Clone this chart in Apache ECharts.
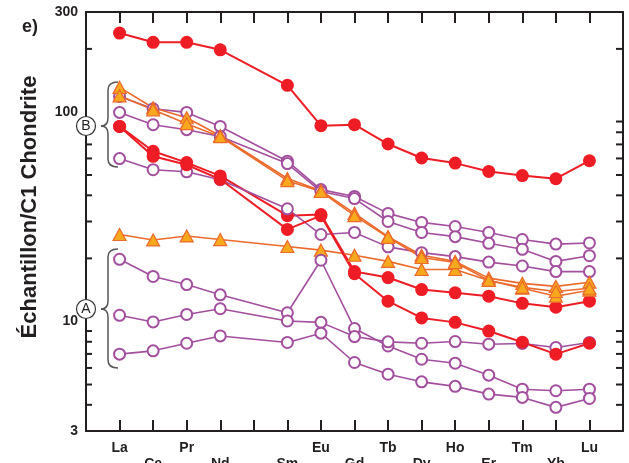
<!DOCTYPE html>
<html>
<head>
<meta charset="utf-8">
<script src="https://cdn.jsdelivr.net/npm/echarts@6/dist/echarts.min.js"></script>
<style>
  html, body { margin: 0; padding: 0; background: #fff; }
  #chart { width: 629px; height: 463px; }
</style>
</head>
<body>
<div id="chart"></div>
<script>
// Rare earth elements in atomic order (Pm not analysed)
const ELEMENTS = ['La', 'Ce', 'Pr', 'Nd', 'Pm', 'Sm', 'Eu', 'Gd', 'Tb', 'Dy', 'Ho', 'Er', 'Tm', 'Yb', 'Lu'];

// Chondrite-normalised concentrations, one array per sample
const redHigh = [238, 215, 215, 198, null, 134, 86, 87, 70.3, 60.3, 57, 52, 49.7, 48, 58.5];
const redMidA = [85.3, 64.9, 57.3, 49.5, null, 32.0, 32.4, 17.3, 16.2, 14.2, 13.7, 13.2, 12.2, 11.7, 12.5];
const redMidB = [85.3, 61.4, 56.0, 47.7, null, 27.5, 32.0, 16.9, 12.5, 10.4, 9.9, 9.0, 7.96, 6.98, 7.87];

const triB1 = [131, 104.7, 93.8, 77.0, null, 48.1, 42.1, 32.8, 25.4, 20.7, 19.35, 16.1, 15.2, 14.7, 15.4];
const triB2 = [119.4, 102.4, 87.9, 76.2, null, 47.0, 41.7, 32.0, 25.2, 20.2, 19.1, 15.7, 14.55, 13.9, 14.4];
const triFlat = [26.0, 24.5, 25.6, 24.6, null, 22.8, 21.9, 20.7, 19.35, 17.7, 17.7, 15.7, 14.4, 13.2, 14.1];

const groupB1 = [118.5, 103.6, 99.5, 85.3, null, 58.2, 42.6, 39.5, 32.8, 29.7, 28.4, 26.6, 24.6, 23.4, 23.7];
const groupB2 = [99.5, 86.9, 82.3, 76.4, null, 56.7, 41.7, 38.6, 30.0, 26.6, 25.4, 23.6, 22.1, 19.35, 20.6];
const groupB3 = [59.9, 53.0, 51.8, 47.5, null, 34.5, 26.0, 26.6, 22.7, 21.3, 20.4, 19.2, 18.4, 17.3, 17.3];

const groupA1 = [19.8, 16.4, 15.0, 13.4, null, 11.0, 19.6, 9.25, 7.64, 6.6, 6.32, 5.54, 4.75, 4.67, 4.75];
const groupA2 = [10.7, 9.95, 10.8, 11.5, null, 10.05, 9.9, 8.47, 7.99, 7.87, 8.02, 7.79, 7.85, 7.51, 7.94];
const groupA3 = [6.98, 7.24, 7.87, 8.53, null, 7.94, 8.79, 6.37, 5.6, 5.15, 4.9, 4.5, 4.34, 3.89, 4.29];

// Log axis: labelled values and minor tick values
const Y_LABELS = [3, 10, 100, 300];
const MINOR_TICKS = [4, 5, 6, 7, 8, 9, 20, 30, 40, 50, 60, 70, 80, 90, 200];

const RED = '#ee1c25';
const PURPLE = '#a24f9d';
const ORANGE = '#ec6a2b';
const TRI_FILL = '#f7a91e';
const INK = '#231f20';

// Category axis padded by one empty slot at each end
const axisCats = [''].concat(ELEMENTS, ['']);
const pad = arr => [null].concat(arr, [null]);

function redSeries(name, data) {
  return {
    name, type: 'line', data: pad(data), connectNulls: true,
    symbol: 'circle', symbolSize: 13,
    itemStyle: { color: RED },
    lineStyle: { color: RED, width: 2 }
  };
}
function purpleSeries(name, data) {
  return {
    name, type: 'line', data: pad(data), connectNulls: true,
    symbol: 'circle', symbolSize: 11,
    itemStyle: { color: '#fff', borderColor: PURPLE, borderWidth: 2 },
    lineStyle: { color: PURPLE, width: 1.6 }
  };
}
function triSeries(name, data) {
  return {
    name, type: 'line', data: pad(data), connectNulls: true,
    symbol: 'triangle', symbolSize: [13, 12],
    itemStyle: { color: TRI_FILL, borderColor: ORANGE, borderWidth: 1.2 },
    lineStyle: { color: ORANGE, width: 1.6 }
  };
}

// Curly brace built from curve and line pieces: x = tip, top..bottom span
function brace(tipX, top, mid, bottom) {
  const vx = tipX + 7, ex = tipX + 17;
  const st = { stroke: '#555', lineWidth: 1.5, fill: 'none' };
  const pieces = [
    { type: 'bezierCurve', shape: { x1: ex, y1: top, x2: vx, y2: top + 8, cpx1: vx, cpy1: top } },
    { type: 'line', shape: { x1: vx, y1: top + 8, x2: vx, y2: mid - 8 } },
    { type: 'bezierCurve', shape: { x1: vx, y1: mid - 8, x2: tipX, y2: mid, cpx1: vx, cpy1: mid } },
    { type: 'bezierCurve', shape: { x1: tipX, y1: mid, x2: vx, y2: mid + 8, cpx1: vx, cpy1: mid } },
    { type: 'line', shape: { x1: vx, y1: mid + 8, x2: vx, y2: bottom - 8 } },
    { type: 'bezierCurve', shape: { x1: vx, y1: bottom - 8, x2: ex, y2: bottom, cpx1: vx, cpy1: bottom } }
  ];
  return pieces.map(p => Object.assign(p, { z: 10, style: st, silent: true }));
}

function circledLetter(letter, cx, cy) {
  return [
    { type: 'circle', z: 11, shape: { cx, cy, r: 9.5 },
      style: { fill: '#fff', stroke: '#333', lineWidth: 1.2 } },
    { type: 'text', z: 12, x: cx, y: cy,
      style: { text: letter, font: '14px "Liberation Sans"', fill: INK,
               textAlign: 'center', textVerticalAlign: 'middle' } }
  ];
}

const chart = echarts.init(document.getElementById('chart'));

const labelFmt = (value) => {
  const i = ELEMENTS.indexOf(value);
  if (i < 0 || value === 'Pm') return '';
  return i % 2 === 1 ? '\n' + value : value;
};

const option = {
  backgroundColor: '#fff',
  animation: false,
  grid: { left: 86, right: 6, top: 12, bottom: 32, containLabel: false, outerBoundsMode: 'none' },
  xAxis: [
    {
      type: 'category', data: axisCats, boundaryGap: false, position: 'bottom',
      axisLine: { lineStyle: { color: INK, width: 2 } },
      axisTick: { inside: true, length: 11, lineStyle: { color: INK, width: 2 },
                  interval: (i, v) => v !== '' },
      axisLabel: { interval: 0, formatter: labelFmt, margin: 9,
                   fontFamily: 'Liberation Sans', fontWeight: 'bold', fontSize: 14,
                   color: INK, lineHeight: 16 },
      splitLine: { show: false }
    },
    {
      type: 'category', data: axisCats, boundaryGap: false, position: 'top',
      axisLine: { lineStyle: { color: INK, width: 2 } },
      axisTick: { inside: true, length: 11, lineStyle: { color: INK, width: 2 },
                  interval: (i, v) => v !== '' },
      axisLabel: { show: false },
      splitLine: { show: false }
    }
  ],
  yAxis: [
    {
      type: 'log', logBase: 10, min: 3, max: 300, position: 'left',
      axisLine: { show: true, lineStyle: { color: INK, width: 2 } },
      axisTick: { inside: true, length: 10, lineStyle: { color: INK, width: 2 } },
      axisLabel: { margin: 8, fontFamily: 'Liberation Sans', fontWeight: 'bold', fontSize: 14, color: INK,
                   formatter: v => {
                     const r = Math.round(v);
                     return Y_LABELS.indexOf(r) >= 0 ? String(r) : '';
                   } },
      splitLine: { show: false }
    },
    {
      type: 'log', logBase: 10, min: 3, max: 300, position: 'right',
      axisLine: { show: true, lineStyle: { color: INK, width: 2 } },
      axisTick: { inside: true, length: 13, lineStyle: { color: INK, width: 2 } },
      axisLabel: { show: false },
      splitLine: { show: false }
    }
  ],
  series: [
    redSeries('redHigh', redHigh),
    redSeries('redMidA', redMidA),
    triSeries('triFlat', triFlat),
    purpleSeries('groupB1', groupB1),
    purpleSeries('groupB2', groupB2),
    purpleSeries('groupB3', groupB3),
    purpleSeries('groupA1', groupA1),
    purpleSeries('groupA2', groupA2),
    purpleSeries('groupA3', groupA3),
    redSeries('redMidB', redMidB),
    triSeries('triB1', triB1),
    triSeries('triB2', triB2),
    {
      // minor tick marks on both vertical axes
      name: 'minorTicks', type: 'custom', silent: true, z: 5,
      data: MINOR_TICKS.map(v => [0, v]),
      renderItem: (params, api) => {
        const y = api.coord([0, api.value(1)])[1];
        const cs = params.coordSys;
        const st = { stroke: INK, lineWidth: 2 };
        return {
          type: 'group',
          children: [
            { type: 'line', shape: { x1: cs.x, y1: y, x2: cs.x + 6, y2: y }, style: st },
            { type: 'line', shape: { x1: cs.x + cs.width - 7, y1: y, x2: cs.x + cs.width, y2: y }, style: st }
          ]
        };
      }
    }
  ],
  graphic: [
    { type: 'text', left: 22, top: 18,
      style: { text: 'e)', font: 'bold 18px "Liberation Sans"', fill: INK } },
    // vertical axis title
    { type: 'text', x: 30, y: 207, rotation: Math.PI / 2,
      style: { text: 'Échantillon/C1 Chondrite', font: 'bold 22px "Liberation Sans"', fill: INK,
               textAlign: 'center', textVerticalAlign: 'middle' } }
  ].concat(
    brace(101, 82, 126, 167),
    brace(101, 249, 309, 368),
    circledLetter('B', 86, 126),
    circledLetter('A', 86, 309)
  )
};

chart.setOption(option);
</script>
</body>
</html>
